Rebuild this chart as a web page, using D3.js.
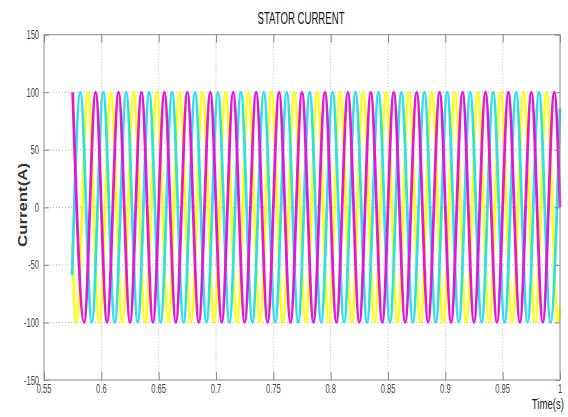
<!DOCTYPE html>
<html>
<head>
<meta charset="utf-8">
<script src="https://cdn.jsdelivr.net/npm/d3@7"></script>
<style>
  html, body { margin: 0; padding: 0; background: #fff; }
  svg { display: block; }
</style>
</head>
<body>
<svg id="chart" width="568" height="417"></svg>
<script>
// Stator phase currents: time (s) of each turning point and the current (A) there
const magentaTimes = [0.575, 0.585, 0.595, 0.605, 0.615, 0.625, 0.635, 0.645, 0.655, 0.665, 0.675, 0.685, 0.695, 0.705, 0.715, 0.725, 0.735, 0.745, 0.755, 0.765, 0.775, 0.785, 0.795, 0.805, 0.815, 0.825, 0.835, 0.845, 0.855, 0.865, 0.875, 0.885, 0.895, 0.905, 0.915, 0.925, 0.935, 0.945, 0.955, 0.965, 0.975, 0.985, 0.995, 1.0];
const magentaValues = [100, -100, 100, -100, 100, -100, 100, -100, 100, -100, 100, -100, 100, -100, 100, -100, 100, -100, 100, -100, 100, -100, 100, -100, 100, -100, 100, -100, 100, -100, 100, -100, 100, -100, 100, -100, 100, -100, 100, -100, 100, -100, 100, 0];

const cyanTimes = [0.5745, 0.5817, 0.5917, 0.6017, 0.6117, 0.6217, 0.6317, 0.6417, 0.6517, 0.6617, 0.6717, 0.6817, 0.6917, 0.7017, 0.7117, 0.7217, 0.7317, 0.7417, 0.7517, 0.7617, 0.7717, 0.7817, 0.7917, 0.8017, 0.8117, 0.8217, 0.8317, 0.8417, 0.8517, 0.8617, 0.8717, 0.8817, 0.8917, 0.9017, 0.9117, 0.9217, 0.9317, 0.9417, 0.9517, 0.9617, 0.9717, 0.9817, 0.9917, 1.0];
const cyanValues = [-59, 100, -100, 100, -100, 100, -100, 100, -100, 100, -100, 100, -100, 100, -100, 100, -100, 100, -100, 100, -100, 100, -100, 100, -100, 100, -100, 100, -100, 100, -100, 100, -100, 100, -100, 100, -100, 100, -100, 100, -100, 100, -100, 86];

const yellowTimes = [0.5745, 0.5783, 0.5883, 0.5983, 0.6083, 0.6183, 0.6283, 0.6383, 0.6483, 0.6583, 0.6683, 0.6783, 0.6883, 0.6983, 0.7083, 0.7183, 0.7283, 0.7383, 0.7483, 0.7583, 0.7683, 0.7783, 0.7883, 0.7983, 0.8083, 0.8183, 0.8283, 0.8383, 0.8483, 0.8583, 0.8683, 0.8783, 0.8883, 0.8983, 0.9083, 0.9183, 0.9283, 0.9383, 0.9483, 0.9583, 0.9683, 0.9783, 0.9883, 0.9983, 1.0];
const yellowValues = [-31, -100, 100, -100, 100, -100, 100, -100, 100, -100, 100, -100, 100, -100, 100, -100, 100, -100, 100, -100, 100, -100, 100, -100, 100, -100, 100, -100, 100, -100, 100, -100, 100, -100, 100, -100, 100, -100, 100, -100, 100, -100, 100, -100, -86];

const xTicks = [0.55, 0.6, 0.65, 0.7, 0.75, 0.8, 0.85, 0.9, 0.95, 1];
const xTickLabels = ["0.55", "0.6", "0.65", "0.7", "0.75", "0.8", "0.85", "0.9", "0.95", "1"];
const yTicks = [150, 100, 50, 0, -50, -100, -150];
const yTickLabels = ["150", "100", "50", "0", "-50", "-100", "-150"];

const titleText = "STATOR CURRENT";
const xLabelText = "Time(s)";
const yLabelText = "Current(A)";

// ---- layout ----
const svg = d3.select("#chart");
const plot = { left: 44, right: 560, top: 34.7, bottom: 380 };
const x = d3.scaleLinear().domain([0.55, 1]).range([plot.left, plot.right]);
const y = d3.scaleLinear().domain([-150, 150]).range([plot.bottom, plot.top]);

const narrow = "'Liberation Sans Narrow', 'Liberation Sans', Arial, sans-serif";
const gridColor = "#b4b4b4";
const boxColor = "#8a8a8a";

// grid
const grid = svg.append("g");
grid.selectAll("line.gx").data(xTicks.slice(1, -1)).join("line")
  .attr("x1", d => x(d)).attr("x2", d => x(d))
  .attr("y1", plot.top).attr("y2", plot.bottom)
  .attr("stroke", gridColor).attr("stroke-width", 1).attr("stroke-dasharray", "1,2");
grid.selectAll("line.gy").data(yTicks.slice(1, -1)).join("line")
  .attr("x1", plot.left).attr("x2", plot.right)
  .attr("y1", d => y(d)).attr("y2", d => y(d))
  .attr("stroke", gridColor).attr("stroke-width", 1).attr("stroke-dasharray", "1,2");

// phase currents
const line = d3.line()
  .x(d => x(d[0]))
  .y(d => y(d[1]))
  .curve(d3.curveMonotoneX);

const series = [
  { times: yellowTimes, values: yellowValues, color: "#ffff10" },
  { times: cyanTimes, values: cyanValues, color: "#30e0e8" },
  { times: magentaTimes, values: magentaValues, color: "#e418d4" }
];

svg.append("g").selectAll("path").data(series).join("path")
  .attr("d", s => line(d3.zip(s.times, s.values)))
  .attr("fill", "none")
  .attr("stroke", s => s.color)
  .attr("stroke-width", 2.8)
  .attr("stroke-linejoin", "round");

// axes box with inward ticks on all four sides
const axisColorize = g => {
  g.select(".domain").remove();
  g.selectAll(".tick line").attr("stroke", boxColor);
  g.selectAll(".tick text").remove();
};
svg.append("g").attr("transform", `translate(0,${plot.bottom})`)
  .call(d3.axisBottom(x).tickValues(xTicks).tickSizeInner(-8).tickSizeOuter(0)).call(axisColorize);
svg.append("g").attr("transform", `translate(0,${plot.top})`)
  .call(d3.axisTop(x).tickValues(xTicks).tickSizeInner(-8).tickSizeOuter(0)).call(axisColorize);
svg.append("g").attr("transform", `translate(${plot.left},0)`)
  .call(d3.axisLeft(y).tickValues(yTicks).tickSizeInner(-5).tickSizeOuter(0)).call(axisColorize);
svg.append("g").attr("transform", `translate(${plot.right},0)`)
  .call(d3.axisRight(y).tickValues(yTicks).tickSizeInner(-5).tickSizeOuter(0)).call(axisColorize);

svg.append("rect")
  .attr("x", plot.left).attr("y", plot.top)
  .attr("width", plot.right - plot.left).attr("height", plot.bottom - plot.top)
  .attr("fill", "none").attr("stroke", boxColor).attr("stroke-width", 1);

// condensed tick labels
const squeeze = 0.58;
svg.append("g").selectAll("g").data(xTicks).join("g")
  .attr("transform", d => `translate(${x(d)},393) scale(${squeeze},1)`)
  .append("text")
  .attr("text-anchor", "middle")
  .attr("font-family", narrow).attr("font-size", 13).attr("fill", "#444")
  .text((d, i) => xTickLabels[i]);

svg.append("g").selectAll("g").data(yTicks).join("g")
  .attr("transform", d => `translate(39,${y(d) + 4.5}) scale(${squeeze},1)`)
  .append("text")
  .attr("text-anchor", "end")
  .attr("font-family", narrow).attr("font-size", 13).attr("fill", "#444")
  .text((d, i) => yTickLabels[i]);

// title
svg.append("text")
  .attr("x", 301).attr("y", 24)
  .attr("text-anchor", "middle")
  .attr("font-family", narrow).attr("font-size", 16).attr("fill", "#111")
  .attr("textLength", 87).attr("lengthAdjust", "spacingAndGlyphs")
  .text(titleText);

// axis labels
svg.append("g")
  .attr("transform", "translate(564,409) scale(0.64,1)")
  .append("text")
  .attr("text-anchor", "end")
  .attr("font-family", narrow).attr("font-size", 15).attr("fill", "#222")
  .text(xLabelText);

svg.append("text")
  .attr("transform", "translate(27,205) rotate(-90)")
  .attr("text-anchor", "middle")
  .attr("font-family", "'Liberation Sans', Arial, sans-serif")
  .attr("font-size", 12).attr("font-weight", "bold").attr("fill", "#333")
  .attr("textLength", 84).attr("lengthAdjust", "spacingAndGlyphs")
  .text(yLabelText);
</script>
</body>
</html>
